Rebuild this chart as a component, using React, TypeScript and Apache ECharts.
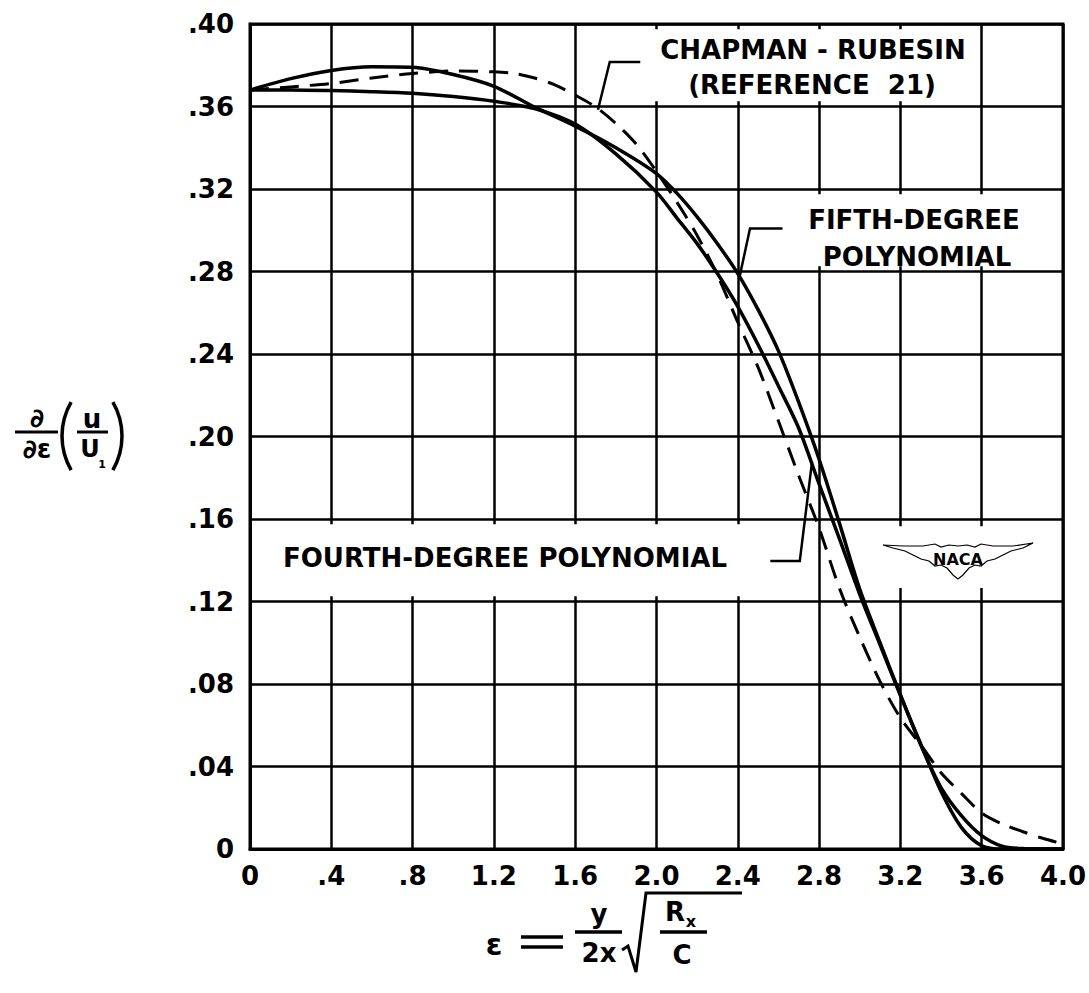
import React, { useEffect, useRef } from "react";
import * as echarts from "echarts";

// ---------- data ----------
const xTickLabels = ["0", ".4", ".8", "1.2", "1.6", "2.0", "2.4", "2.8", "3.2", "3.6", "4.0"];
const yTickLabels = ["0", ".04", ".08", ".12", ".16", ".20", ".24", ".28", ".32", ".36", ".40"];

const fourthEps = [0, 0.2, 0.4, 0.6, 0.8, 1.0, 1.2, 1.4, 1.6, 1.8, 2.0, 2.1, 2.2, 2.3, 2.4, 2.5, 2.6, 2.7, 2.8, 2.9, 3.0, 3.1, 3.2, 3.3, 3.4, 3.5, 3.6, 3.7, 3.8, 4.0];
const fourthVal = [0.368, 0.368, 0.3677, 0.3672, 0.3664, 0.3648, 0.3625, 0.359, 0.3515, 0.337, 0.3185, 0.306, 0.2935, 0.279, 0.263, 0.2445, 0.2245, 0.204, 0.177, 0.1505, 0.1235, 0.099, 0.0745, 0.051, 0.028, 0.0105, 0.0016, 0, 0, 0];

const fifthEps = [0, 0.2, 0.4, 0.6, 0.8, 1.0, 1.2, 1.4, 1.6, 1.8, 2.0, 2.1, 2.2, 2.3, 2.4, 2.5, 2.6, 2.7, 2.8, 2.9, 3.0, 3.1, 3.2, 3.3, 3.4, 3.5, 3.6, 3.7, 3.8, 3.9, 4.0];
const fifthVal = [0.368, 0.3735, 0.3775, 0.3793, 0.379, 0.3755, 0.3698, 0.3597, 0.3505, 0.34, 0.3275, 0.318, 0.3065, 0.2935, 0.279, 0.2615, 0.2415, 0.2165, 0.189, 0.158, 0.126, 0.1, 0.0748, 0.0505, 0.0298, 0.0162, 0.0065, 0.0014, 0.0002, 0, 0];

const chapmanEps = [0, 0.2, 0.4, 0.6, 0.8, 1.0, 1.2, 1.3, 1.4, 1.5, 1.6, 1.7, 1.8, 1.9, 2.0, 2.1, 2.2, 2.3, 2.4, 2.5, 2.6, 2.7, 2.8, 2.9, 3.0, 3.1, 3.2, 3.3, 3.4, 3.5, 3.6, 3.7, 3.8, 3.9, 4.0];
const chapmanVal = [0.368, 0.3695, 0.3712, 0.3738, 0.376, 0.3772, 0.3768, 0.376, 0.3738, 0.3705, 0.3655, 0.3598, 0.3518, 0.3418, 0.3285, 0.3137, 0.2975, 0.2782, 0.2554, 0.2335, 0.2075, 0.181, 0.1556, 0.1265, 0.1027, 0.0812, 0.0636, 0.0505, 0.037, 0.027, 0.0175, 0.0122, 0.0085, 0.0052, 0.0025];

// annotation anchor points (data coordinates)
const chapmanLeader = [[1.92, 0.3816], [1.77, 0.3816], [1.712, 0.3584]];
const fifthLeader = [[2.62, 0.3008], [2.46, 0.3008], [2.41, 0.278]];
const fourthLeader = [[2.56, 0.1396], [2.705, 0.1396], [2.765, 0.1876]];

// ---------- layout ----------
const W = 1089;
const H = 993;
const GRID = { left: 250, top: 24, width: 813, height: 825 };
const X_MAX = 4;
const Y_MAX = 0.4;
const FONT = "'DejaVu Sans', 'Liberation Sans', sans-serif";
const TX = -30; // horizontal offset of the x-axis formula

const px = (x: number) => GRID.left + (x / X_MAX) * GRID.width;
const py = (y: number) => GRID.top + GRID.height - (y / Y_MAX) * GRID.height;
const pts = (arr: number[][]) => arr.map(([x, y]) => [px(x), py(y)]);
const zip = (xs: number[], ys: number[]) => xs.map((x, i) => [x, ys[i]]);

function maskRect(x0: number, x1: number, y0: number, y1: number) {
  return {
    type: "rect",
    z: 5,
    shape: { x: px(x0), y: py(y1), width: px(x1) - px(x0), height: py(y0) - py(y1) },
    style: { fill: "#fff" },
    silent: true,
  };
}

function txt(text: string, x: number, y: number, size: number, weight = "bold", align = "center") {
  return {
    type: "text",
    z: 20,
    x,
    y,
    style: {
      text,
      font: `${weight} ${size}px ${FONT}`,
      fill: "#000",
      align,
      verticalAlign: "middle",
      textAlign: align,
      textVerticalAlign: "middle",
    },
    silent: true,
  };
}

function seg(x1: number, y1: number, x2: number, y2: number, w = 3) {
  return {
    type: "line",
    z: 20,
    shape: { x1, y1, x2, y2 },
    style: { stroke: "#000", lineWidth: w },
    silent: true,
  };
}

function leader(arr: number[][]) {
  return {
    type: "polyline",
    z: 20,
    shape: { points: pts(arr) },
    style: { stroke: "#000", lineWidth: 2.5, fill: null },
    silent: true,
  };
}

function nacaLogo(cx: number, cy: number) {
  const raw = [
    [0, 2], [20, 3], [40, 3], [52, 1], [58, 4], [66, 2], [75, 3], [84, 2], [92, 4], [98, 1], [110, 3], [130, 3], [150, 0],
    [140, 5], [128, 8], [120, 12], [112, 16], [104, 18], [98, 23], [92, 22], [86, 25], [80, 32], [75, 36],
    [70, 32], [64, 25], [58, 22], [52, 23], [46, 18], [38, 16], [30, 12], [22, 8], [10, 5],
  ];
  const points = raw.map(([x, y]) => [cx - 75 + x, cy - 18 + y]);
  return [
    {
      type: "polygon",
      z: 20,
      shape: { points },
      style: { stroke: "#000", lineWidth: 1.2, fill: "#fff" },
      silent: true,
    },
    txt("NACA", cx, cy - 2, 16, "bold"),
  ];
}

function buildGraphic() {
  const g: any[] = [];
  // white label boxes hiding the grid
  g.push(maskRect(1.66, 3.55, 0.3625, 0.3975));
  g.push(maskRect(2.425, 3.975, 0.2825, 0.3175));
  g.push(maskRect(0.015, 2.62, 0.1225, 0.1575));
  g.push(maskRect(3.11, 3.86, 0.1265, 0.1565));

  // labels
  g.push(txt("CHAPMAN - RUBESIN", 813, 50, 26));
  g.push(txt("(REFERENCE  21)", 812, 85, 26));
  g.push(txt("FIFTH-DEGREE", 914, 220, 26));
  g.push(txt("POLYNOMIAL", 917, 257, 26));
  g.push(txt("FOURTH-DEGREE POLYNOMIAL", 505, 558, 26));

  g.push(leader(chapmanLeader));
  g.push(leader(fifthLeader));
  g.push(leader(fourthLeader));

  g.push(...nacaLogo(958, 561));

  // y-axis title  ∂/∂ε (u/U1)
  g.push(txt("∂", 37, 418, 26, "bold"));
  g.push(seg(15, 432, 58, 432, 3));
  g.push(txt("∂ε", 37, 449, 26, "bold"));
  g.push({
    type: "arc",
    z: 20,
    shape: { cx: 130, cy: 436, r: 68, startAngle: (5 * Math.PI) / 6, endAngle: (7 * Math.PI) / 6, clockwise: true },
    style: { stroke: "#000", lineWidth: 3.5, fill: null },
    silent: true,
  });
  g.push({
    type: "arc",
    z: 20,
    shape: { cx: 54, cy: 436, r: 68, startAngle: -Math.PI / 6, endAngle: Math.PI / 6, clockwise: true },
    style: { stroke: "#000", lineWidth: 3.5, fill: null },
    silent: true,
  });
  g.push(txt("u", 92, 419, 26, "bold"));
  g.push(seg(77, 432, 108, 432, 3));
  g.push(txt("U", 90, 449, 24, "bold"));
  g.push(txt("1", 102, 464, 11, "bold"));

  // x-axis title  ε = y/(2x) √(Rx/C)
  g.push(txt("ε", 524 + TX, 944, 30, "bold"));
  g.push(seg(551 + TX, 937, 593 + TX, 937, 3.5));
  g.push(seg(551 + TX, 947, 593 + TX, 947, 3.5));
  g.push(txt("y", 629 + TX, 914, 26, "bold"));
  g.push(seg(605 + TX, 932, 652 + TX, 932, 3.5));
  g.push(txt("2x", 629 + TX, 953, 26, "bold"));
  g.push({
    type: "polyline",
    z: 20,
    shape: { points: [[652 + TX, 950], [658 + TX, 946], [666 + TX, 972], [676 + TX, 893], [772 + TX, 893]] },
    style: { stroke: "#000", lineWidth: 3, fill: null },
    silent: true,
  });
  g.push(txt("R", 705 + TX, 912, 26, "bold"));
  g.push(txt("x", 721 + TX, 921, 16, "bold"));
  g.push(seg(690 + TX, 932, 737 + TX, 932, 3.5));
  g.push(txt("C", 712 + TX, 955, 26, "bold"));
  return g;
}

export default function App() {
  const ref = useRef<HTMLDivElement>(null);

  useEffect(() => {
    if (!ref.current) return;
    const chart = echarts.init(ref.current, null, { renderer: "svg", width: W, height: H });
    const labelStyle = { color: "#000", fontSize: 26, fontWeight: "bold", fontFamily: FONT };
    chart.setOption({
      animation: false,
      backgroundColor: "#fff",
      grid: {
        left: GRID.left,
        top: GRID.top,
        width: GRID.width,
        height: GRID.height,
        show: true,
        borderColor: "#000",
        borderWidth: 3,
        backgroundColor: "transparent",
      },
      xAxis: {
        type: "value",
        min: 0,
        max: X_MAX,
        interval: 0.4,
        axisLine: { show: true, lineStyle: { color: "#000", width: 3 } },
        axisTick: { show: false },
        splitLine: { show: true, lineStyle: { color: "#000", width: 2.5 } },
        axisLabel: {
          ...labelStyle,
          margin: 14,
          formatter: (v: number) => xTickLabels[Math.round(v / 0.4)] ?? "",
        },
      },
      yAxis: {
        type: "value",
        min: 0,
        max: Y_MAX,
        interval: 0.04,
        axisLine: { show: true, lineStyle: { color: "#000", width: 3 } },
        axisTick: { show: false },
        splitLine: { show: true, lineStyle: { color: "#000", width: 2.5 } },
        axisLabel: {
          ...labelStyle,
          margin: 16,
          formatter: (v: number) => yTickLabels[Math.round(v / 0.04)] ?? "",
        },
      },
      series: [
        {
          name: "Fourth-degree polynomial",
          type: "line",
          z: 10,
          data: zip(fourthEps, fourthVal),
          showSymbol: false,
          smooth: 0.3,
          lineStyle: { color: "#000", width: 3.5 },
        },
        {
          name: "Fifth-degree polynomial",
          type: "line",
          z: 10,
          data: zip(fifthEps, fifthVal),
          showSymbol: false,
          smooth: 0.3,
          lineStyle: { color: "#000", width: 3.5 },
        },
        {
          name: "Chapman-Rubesin (Reference 21)",
          type: "line",
          z: 10,
          data: zip(chapmanEps, chapmanVal),
          showSymbol: false,
          smooth: 0.3,
          lineStyle: { color: "#000", width: 3, type: [19, 11] },
        },
      ],
      graphic: { elements: buildGraphic() },
    });
    return () => chart.dispose();
  }, []);

  return (
    <div
      ref={ref}
      style={{ position: "fixed", left: 0, top: 0, width: W, height: H, background: "#fff" }}
    />
  );
}
